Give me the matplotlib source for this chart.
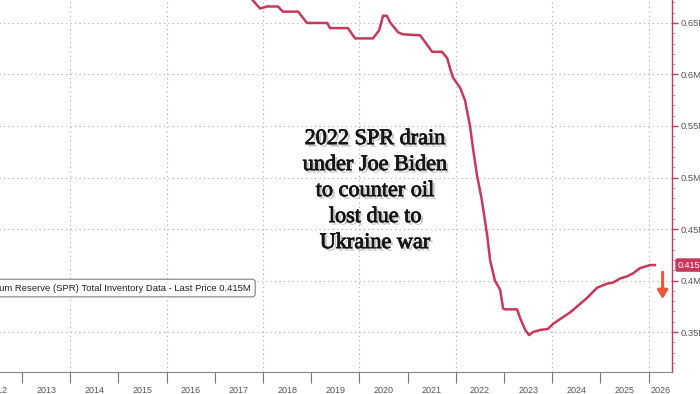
import numpy as np
import matplotlib
matplotlib.use('Agg')
import matplotlib.pyplot as plt
import matplotlib.patheffects as pe
from matplotlib import font_manager
from matplotlib.ticker import FixedLocator, NullFormatter, FuncFormatter, MultipleLocator

# SPR total inventory (million barrels -> shown as "M" of thousands)
dates = [2012.5, 2013.5, 2014.5, 2015.5, 2016.5, 2017.2, 2017.69, 2017.79, 2017.88, 2017.94,
         2018.08, 2018.31, 2018.41, 2018.73, 2018.91, 2019.33, 2019.39, 2019.76, 2019.91,
         2020.28, 2020.41, 2020.49, 2020.57, 2020.63, 2020.80, 2020.90, 2021.26, 2021.51,
         2021.71, 2021.82, 2021.88, 2021.94, 2022.09, 2022.19, 2022.29, 2022.36, 2022.44,
         2022.54, 2022.65, 2022.71, 2022.81, 2022.92, 2022.98, 2023.02, 2023.27, 2023.33,
         2023.44, 2023.52, 2023.60, 2023.75, 2023.91, 2024.02, 2024.37, 2024.72, 2024.93,
         2025.14, 2025.26, 2025.41, 2025.55, 2025.68, 2025.82, 2026.03, 2026.13]
spr = [0.695, 0.696, 0.691, 0.695, 0.695, 0.688, 0.677, 0.672, 0.667, 0.664,
       0.666, 0.666, 0.661, 0.661, 0.650, 0.650, 0.645, 0.645, 0.635,
       0.635, 0.643, 0.657, 0.657, 0.651, 0.641, 0.639, 0.638, 0.622,
       0.622, 0.616, 0.606, 0.597, 0.587, 0.575, 0.551, 0.527, 0.502,
       0.478, 0.444, 0.420, 0.400, 0.391, 0.373, 0.372, 0.372, 0.364,
       0.352, 0.347, 0.350, 0.352, 0.353, 0.358, 0.369, 0.383, 0.393,
       0.397, 0.398, 0.402, 0.404, 0.407, 0.412, 0.415, 0.415]
years = list(range(2012, 2027))
y_ticks = [0.35, 0.40, 0.45, 0.50, 0.55, 0.60, 0.65]
series_name = 'US Strategic Petroleum Reserve (SPR) Total Inventory Data - Last Price 0.415M'
note = '2022 SPR drain\nunder Joe Biden\nto counter oil\nlost due to\nUkraine war'

names = {f.name for f in font_manager.fontManager.ttflist}
small_font = 'Liberation Sans Narrow' if 'Liberation Sans Narrow' in names else 'Liberation Sans'

line_c = '#c8385a'
grey = '#555555'

fig = plt.figure(figsize=(7, 3.94), dpi=100)
ax = fig.add_axes([-30 / 700, 22 / 394, 702 / 700, 372 / 394])
x0, x1 = 2011.92, 2026.485
ax.set_xlim(x0, x1)
ax.set_ylim(0.3112, 0.6723)

ax.plot(dates, spr, color=line_c, lw=1.8, solid_joinstyle='round', zorder=3)

# x axis: year boundaries as ticks, labels centred inside each year
ax.xaxis.set_major_locator(FixedLocator(years))
ax.xaxis.set_major_formatter(NullFormatter())
mids = [(y + min(y + 1, x1)) / 2 for y in years]
ax.xaxis.set_minor_locator(FixedLocator(mids))
ax.xaxis.set_minor_formatter(FuncFormatter(lambda v, p: str(years[p]) if p < len(years) else ''))
ax.tick_params(axis='x', which='major', length=8, color='#777777', width=0.8, direction='out')
ax.tick_params(axis='x', which='minor', length=0, pad=10, labelsize=6.5, labelcolor=grey)
for lab in ax.xaxis.get_minorticklabels():
    lab.set_family(small_font)

# y axis on the right
ax.yaxis.tick_right()
ax.yaxis.set_major_locator(FixedLocator(y_ticks))
ax.yaxis.set_major_formatter(FuncFormatter(lambda v, p: f'{v:g}M'))
ax.yaxis.set_minor_locator(MultipleLocator(0.01))
ax.tick_params(axis='y', which='major', length=4, color=line_c, width=1, pad=2,
               labelsize=6.8, labelcolor=grey)
ax.tick_params(axis='y', which='minor', length=2, color='#999999', width=0.6)
for lab in ax.get_yticklabels():
    lab.set_family(small_font)

# grid
for v in y_ticks:
    ax.axhline(v, color='#aaaaaa', lw=0.8, ls=(0, (1, 3)), zorder=1)
for y in years[::2]:
    ax.axvline(y, color='#aaaaaa', lw=0.8, ls=(0, (1, 3)), zorder=1)

for s in ['top', 'left']:
    ax.spines[s].set_visible(False)
ax.spines['bottom'].set_color('#888888')
ax.spines['right'].set_color(line_c)
ax.spines['right'].set_linewidth(1.0)

# legend box (partly cut off at the left edge, as in the source)
ax.annotate(series_name, xy=(2017.75, 0.3927), xycoords='data', ha='right', va='center',
            fontsize=6.8, family=small_font, color='#222222',
            bbox=dict(boxstyle='round,pad=0.45,rounding_size=0.3', fc='white',
                      ec='#999999', lw=1.0), zorder=5)

# last price tag
ax.annotate(f'{spr[-1]:g}M', xy=(1, spr[-1]), xycoords=('axes fraction', 'data'),
            xytext=(4, 0), textcoords='offset points', ha='left', va='center',
            fontsize=6.5, family=small_font, color='white', annotation_clip=False,
            bbox=dict(boxstyle='round,pad=0.25', fc=line_c, ec='none'))

# down arrow next to last price
ax.annotate('', xy=(dates[-1] + 0.16, spr[-1] - 0.033), xytext=(dates[-1] + 0.16, spr[-1] - 0.007),
            arrowprops=dict(arrowstyle='-|>,head_length=0.5,head_width=0.3', color='#f0553a',
                            lw=2.2, shrinkA=0, shrinkB=0), zorder=4)

# overlay note
ax.text(0.577, 0.485, note, transform=ax.transAxes, ha='center', va='center',
        fontsize=16, family='Liberation Serif', color='#151515', linespacing=1.5,
        path_effects=[pe.SimplePatchShadow(offset=(1.8, -1.8), shadow_rgbFace='#888888', alpha=0.5),
                      pe.withStroke(linewidth=0.6, foreground='#151515')], zorder=6)

fig.savefig('out.png', dpi=100, facecolor='white')
